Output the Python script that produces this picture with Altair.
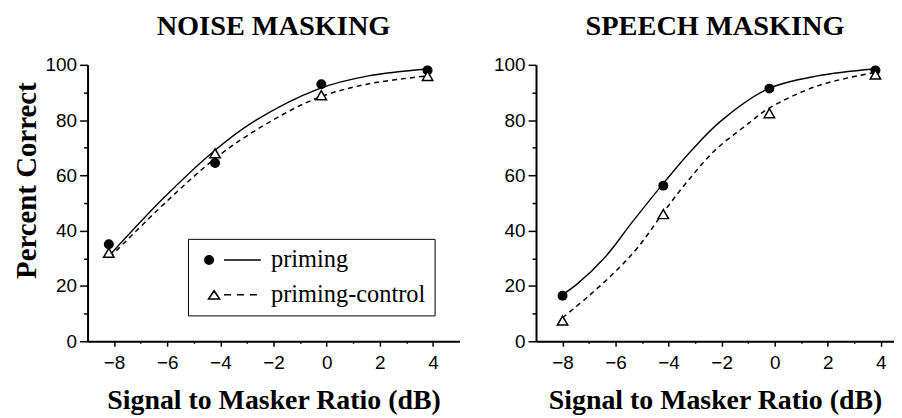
import altair as alt
import pandas as pd

# ---------------- data ----------------
series_names = ["priming", "priming-control"]

noise_x = [-8.2, -4.2, -0.2, 3.8]
noise_priming = [35.1, 64.5, 93.0, 98.0]
noise_control = [32.0, 68.0, 89.0, 96.0]

speech_x = [-8.0, -4.2, -0.2, 3.8]
speech_priming = [16.5, 56.3, 91.4, 98.0]
speech_control = [7.5, 46.0, 82.5, 96.5]

# fitted curves
noise_fit_priming_x = [-8.15, -6.15, -4.28, -2.79, -0.30, 1.57, 3.81]
noise_fit_priming_y = [31.3, 51.7, 68.5, 79.2, 91.3, 96.0, 98.5]
noise_fit_control_x = [-8.15, -6.03, -4.04, -2.17, -0.30, 1.57, 3.81]
noise_fit_control_y = [30.5, 50.5, 67.3, 79.2, 88.2, 93.1, 96.0]

speech_fit_priming_x = [-8.0, -7.5, -6.38, -5.38, -4.25, -3.13, -2.0, -0.25, 1.62, 3.75]
speech_fit_priming_y = [16.9, 20.3, 30.6, 43.0, 56.5, 69.1, 79.9, 91.3, 96.0, 98.5]
speech_fit_control_x = [-8.0, -7.0, -6.0, -5.13, -4.13, -3.25, -2.25, -1.0, -0.25, 1.62, 3.75]
speech_fit_control_y = [8.5, 16.5, 25.3, 34.3, 47.5, 58.3, 69.1, 78.7, 84.1, 92.4, 97.2]

x_ticks = list(range(-8, 5))
y_ticks = list(range(0, 101, 10))

panel_titles = ["NOISE MASKING", "SPEECH MASKING"]
x_title = "Signal to Masker Ratio (dB)"
y_title = "Percent Correct"

# legend symbols: marker + line sample (custom SVG paths, unit = symbol radius)
legend_paths = [
    "M -0.5 0 A 0.5 0.5 0 1 0 0.5 0 A 0.5 0.5 0 1 0 -0.5 0 Z "
    "M 1.5 -0.08 L 5.2 -0.08 L 5.2 0.08 L 1.5 0.08 Z",
    "M 0.5 -0.55 L 1.2 0.5 L -0.2 0.5 Z M 0.5 -0.22 L 0.08 0.35 L 0.92 0.35 Z "
    "M 1.5 -0.08 L 2.2 -0.08 L 2.2 0.08 L 1.5 0.08 Z "
    "M 2.8 -0.08 L 3.5 -0.08 L 3.5 0.08 L 2.8 0.08 Z "
    "M 4.1 -0.08 L 4.8 -0.08 L 4.8 0.08 L 4.1 0.08 Z",
]


def points_df(xs, prim, ctrl):
    return pd.DataFrame({
        "x": xs + xs,
        "y": prim + ctrl,
        "series": [series_names[0]] * len(xs) + [series_names[1]] * len(xs),
    })


def fit_df(px, py, cx, cy):
    return pd.DataFrame({
        "x": px + cx,
        "y": py + cy,
        "series": [series_names[0]] * len(px) + [series_names[1]] * len(cx),
    })


def panel(title, pts, fit, domain, width, show_ytitle, with_legend):
    X = alt.X(
        "x:Q",
        scale=alt.Scale(domain=domain, nice=False, zero=False),
        axis=alt.Axis(
            values=x_ticks,
            labelExpr="datum.value % 2 === 0 ? datum.label : ''",
            tickSize={"condition": {"test": "datum.value % 2 === 0", "value": 5}, "value": 2},
            labelPadding=7,
            titlePadding=15,
            labelFlush=False,
        ),
        title=x_title,
    )
    Y = alt.Y(
        "y:Q",
        scale=alt.Scale(domain=[0, 100], nice=False, zero=True),
        axis=alt.Axis(
            values=y_ticks,
            labelExpr="datum.value % 20 === 0 ? datum.label : ''",
            tickSize={"condition": {"test": "datum.value % 20 === 0", "value": 8}, "value": 4},
            labelPadding=3,
            titlePadding=4,
            titleY=116,
            titleFontSize=29,
            labelFlush=False,
        ),
        title=y_title if show_ytitle else None,
    )
    base_fit = alt.Chart(fit)
    base_pts = alt.Chart(pts)
    solid = base_fit.transform_filter(alt.datum.series == series_names[0]).mark_line(
        color="black", strokeWidth=1.4, interpolate="catmull-rom"
    ).encode(x=X, y=Y)
    dashed = base_fit.transform_filter(alt.datum.series == series_names[1]).mark_line(
        color="black", strokeWidth=1.5, strokeDash=[5, 4], interpolate="catmull-rom"
    ).encode(x=X, y=Y)
    circles = base_pts.transform_filter(alt.datum.series == series_names[0]).mark_point(
        shape="circle", filled=True, color="black", size=100, opacity=1
    ).encode(x=X, y=Y)
    tris = base_pts.transform_filter(alt.datum.series == series_names[1]).mark_point(
        shape="triangle-up", filled=True, fill="white", stroke="black",
        strokeWidth=1.5, size=110, opacity=1
    ).encode(x=X, y=Y)
    layers = [solid, dashed, circles, tris]
    if with_legend:
        leg = base_pts.mark_point(filled=True, color="black").encode(
            x=X,
            y=Y,
            opacity=alt.value(0),
            shape=alt.Shape(
                "series:N",
                scale=alt.Scale(domain=series_names, range=legend_paths),
                legend=alt.Legend(
                    title=None,
                    orient="none",
                    legendX=101,
                    legendY=175,
                    strokeColor="black",
                    padding=9,
                    symbolSize=400,
                    symbolOpacity=1,
                    symbolFillColor="black",
                    symbolStrokeWidth=0,
                    labelOffset=50,
                    labelFont="Liberation Serif",
                    labelFontSize=24.5,
                    labelColor="black",
                    rowPadding=10,
                    labelLimit=400,
                ),
            ),
        )
        layers.append(leg)
    return alt.layer(*layers).properties(
        width=width,
        height=278,
        title=alt.Title(
            title,
            font="Liberation Serif",
            fontSize=28.5,
            fontWeight="bold",
            color="black",
            anchor="middle",
            offset=16,
        ),
    )


left = panel(
    panel_titles[0],
    points_df(noise_x, noise_priming, noise_control),
    fit_df(noise_fit_priming_x, noise_fit_priming_y, noise_fit_control_x, noise_fit_control_y),
    [-9, 5], 374, True, True,
)
right = panel(
    panel_titles[1],
    points_df(speech_x, speech_priming, speech_control),
    fit_df(speech_fit_priming_x, speech_fit_priming_y, speech_fit_control_x, speech_fit_control_y),
    [-9, 4.5], 360, False, False,
)

chart = alt.hconcat(left, right, spacing=34).properties(
    padding={"left": 4, "top": 2, "right": 0, "bottom": 0},
    background="white",
).configure_view(stroke=None).configure_axis(
    grid=False,
    domainColor="black",
    domainWidth=2,
    tickColor="black",
    tickWidth=1.5,
    labelColor="black",
    labelFont="Liberation Sans",
    labelFontSize=19,
    titleFont="Liberation Serif",
    titleFontSize=28,
    titleFontWeight="bold",
    titleColor="black",
)

chart.save("out.html", embed_options={"renderer": "svg", "actions": False})
